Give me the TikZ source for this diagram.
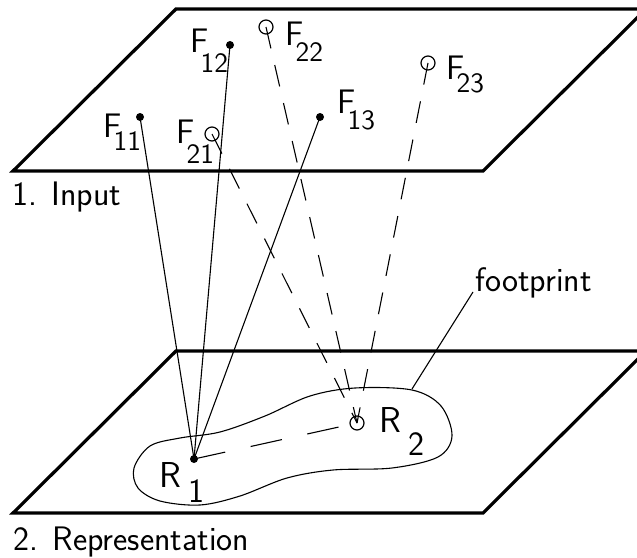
\documentclass[tikz,border=0pt]{standalone}
\usepackage{tikz}
\usetikzlibrary{positioning}
\newcommand{\fsub}[3][8pt]{#2\kern-4pt\raisebox{-#1}{\fontsize{14}{16}\selectfont #3}}
\newcommand{\rsub}[3][9pt]{#2\kern3.5pt\raisebox{-#1}{\fontsize{17}{19}\selectfont #3}}
\begin{document}
\begin{tikzpicture}[
  x=0.5pt,y=-0.5pt,
  font=\sffamily\fontsize{17}{20}\selectfont,
  plane/.style={line width=1.6pt,line join=miter},
  dot/.style={circle,fill=black,inner sep=0pt,minimum size=4pt},
  hole/.style={circle,draw,line width=0.6pt,inner sep=0pt,minimum size=7pt},
  e/.style={line width=0.55pt},
  ed/.style={e,dash pattern=on 11pt off 8.5pt},
  lab/.style={anchor=base west,inner sep=0pt}]
\useasboundingbox (0,0) rectangle (637,557);
\clip (0,0) rectangle (637,557);

% --- planes ---
\draw[plane] (13,171) -- (176,9) -- (646,9) -- (483,171) -- cycle;
\draw[plane] (13,513) -- (176,351) -- (646,351) -- (483,513) -- cycle;
\node[lab] (in) at (12,205) {1. Input};
\node[lab] (rep) at (13,550) {2. Representation};

% --- footprint ---
\draw[e] plot[smooth cycle,tension=0.55] coordinates {
  (134,468) (150,446) (180,438) (220,432) (265,416) (310,396)
  (355,388) (412,390) (441,406) (452,436) (438,457) (392,468)
  (333,470) (287,478) (240,496) (200,505) (160,501) (138,488)};
\coordinate (fp) at (412,389);
\coordinate (fpend) at (473,292);
\node[lab] (fplab) at (475,291) {footprint};
\draw[e] (fp) -- (fpend);

% --- input features ---
\node[dot]  (f11) at (140,117) {};
\node[dot]  (f12) at (230,45) {};
\node[dot]  (f13) at (320,117) {};
\node[hole] (f21) at (212,134) {};
\node[hole] (f22) at (266,27) {};
\node[hole] (f23) at (428,63) {};
\node[lab] (l11) at (103,137) {\fsub[6.5pt]{F}{11}};
\node[lab] (l12) at (190,52)  {\fsub[10pt]{F}{12}};
\node[lab] (l13) at (337,113) {\fsub{F}{13}};
\node[lab] (l21) at (176,143) {\fsub[10pt]{F}{21}};
\node[lab] (l22) at (285,45)  {\fsub[8.5pt]{F}{22}};
\node[lab] (l23) at (446,79)  {\fsub[6.5pt]{F}{23}};

% --- representation ---
\node[dot]  (r1) at (194,459) {};
\node[hole] (r2) at (357,423) {};
\node[lab,font=\sffamily\fontsize{18}{21}\selectfont] (lr1) at (159,487) {\rsub[7.5pt]{R}{1}};
\node[lab,font=\sffamily\fontsize{18}{21}\selectfont] (lr2) at (379,432) {\rsub[11.5pt]{R}{2}};

% edges
\draw[e] (f11.center) -- (r1.center);
\draw[e] (f12.center) -- (r1.center);
\draw[e] (f13.center) -- (r1.center);
\draw[ed] (f21.center) -- (r2.center);
\draw[ed] (f22.center) -- (r2.center);
\draw[ed] (f23.center) -- (r2.center);
\draw[ed,dash pattern=on 16pt off 13pt] (r1.center) -- (r2.center);
\end{tikzpicture}
\end{document}
